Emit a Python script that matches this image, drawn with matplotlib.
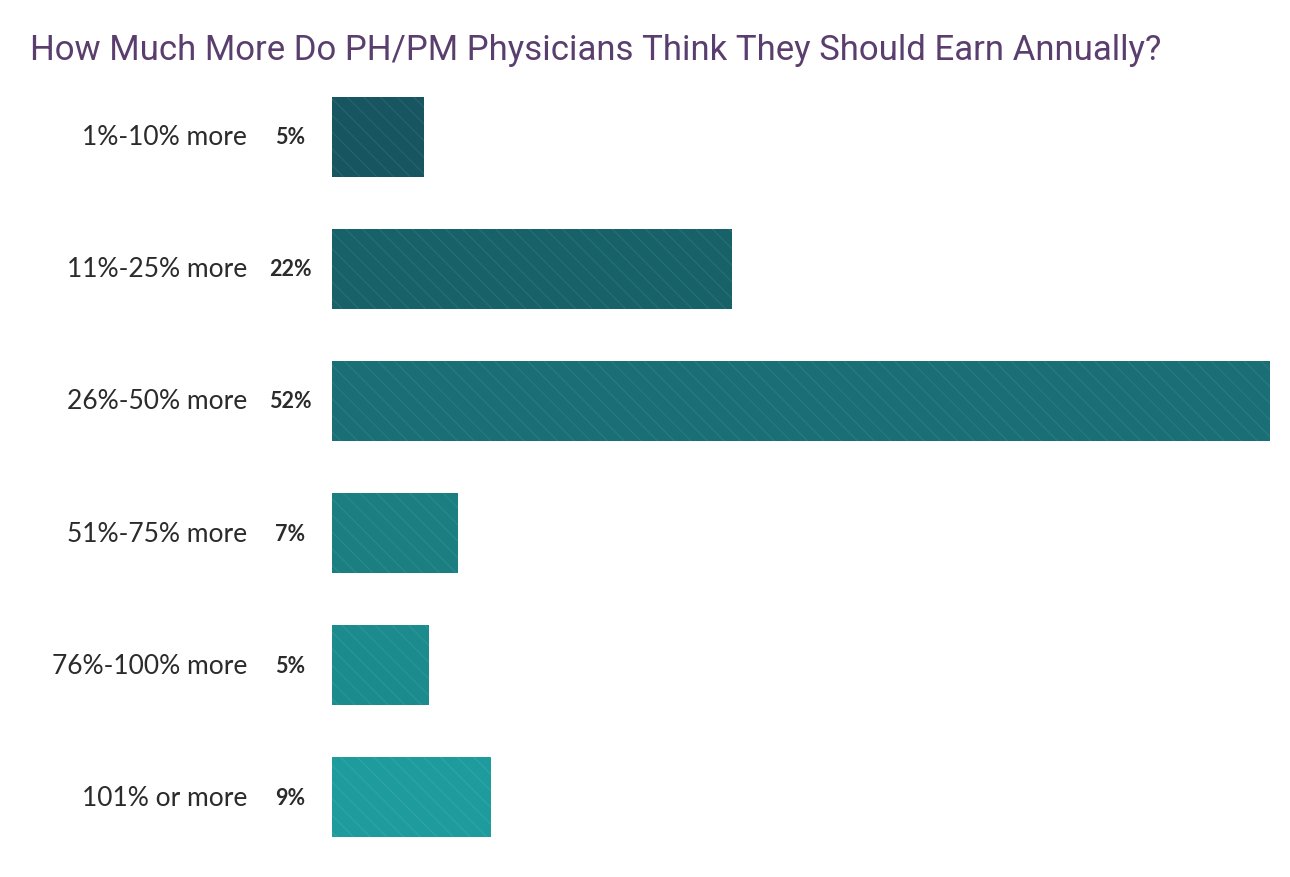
import matplotlib
matplotlib.use("Agg")
import matplotlib.pyplot as plt
from matplotlib import rcParams

rcParams["font.family"] = ["Lato", "DejaVu Sans"]
rcParams["hatch.linewidth"] = 0.5

categories = ["1%-10% more", "11%-25% more", "26%-50% more",
              "51%-75% more", "76%-100% more", "101% or more"]
values = [5.1, 22.2, 52.0, 7.0, 5.4, 8.8]
value_labels = ["5%", "22%", "52%", "7%", "5%", "9%"]
colors = ["#175561", "#176269", "#196f75", "#1b7e81", "#1c8b8d", "#1e9c9d"]

W, H = 1290, 878
fig = plt.figure(figsize=(W / 100, H / 100), dpi=100)
ax = fig.add_axes([332 / W, 1 - 838 / H, (1270 - 332) / W, (838 - 98) / H])

bh = 0.606
ys = list(range(len(categories)))
bars = ax.barh(ys, values, height=bh, color=colors, edgecolor="none", linewidth=0)
for b in bars:
    b.set_hatch("\\\\")
    b._hatch_color = (1, 1, 1, 0.12)

ax.set_xlim(0, 52)
ax.set_ylim(5 + bh / 2, -bh / 2)
ax.axis("off")

for y, cat, lab in zip(ys, categories, value_labels):
    ax.text(-85 / 18.04, y, cat, ha="right", va="center", fontsize=19, color="#2b2b2b")
    ax.text(-42 / 18.04, y, lab, ha="center", va="center", fontsize=15.5,
            fontweight="bold", color="#2b2b2b")

fig.text(30 / W, 1 - 60 / H, "How Much More Do PH/PM Physicians Think They Should Earn Annually?",
         ha="left", va="baseline", fontsize=25, color="#5a3e6e",
         family=["Roboto", "DejaVu Sans"], fontstretch="condensed")

fig.savefig("out.png", dpi=100)
plt.close(fig)
